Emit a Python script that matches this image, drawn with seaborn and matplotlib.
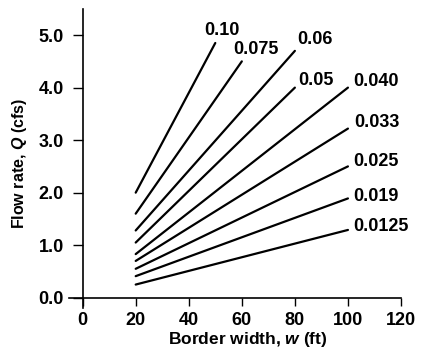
import numpy as np
import pandas as pd
import matplotlib
matplotlib.use('Agg')
import matplotlib.pyplot as plt
import seaborn as sns

# roughness values (one line each)
n_labels = ['0.10', '0.075', '0.06', '0.05', '0.040', '0.033', '0.025', '0.019', '0.0125']
# border width at start / end of each line (ft)
w_start = [20, 20, 20, 20, 20, 20, 20, 20, 20]
w_end = [50, 60, 80, 80, 100, 100, 100, 100, 100]
# flow rate at start / end (cfs)
q_start = [2.0, 1.6, 1.28, 1.05, 0.83, 0.70, 0.55, 0.41, 0.25]
q_end = [4.85, 4.5, 4.7, 4.0, 4.0, 3.22, 2.5, 1.89, 1.29]
# label anchor positions (data coords)
lab_x = [45.8, 56.7, 80.9, 81.3, 102, 102.4, 102, 102, 102]
lab_y = [5.08, 4.72, 4.91, 4.14, 4.12, 3.34, 2.59, 1.92, 1.35]

rows = []
for i, n in enumerate(n_labels):
    rows.append({'n': n, 'w': w_start[i], 'Q': q_start[i]})
    rows.append({'n': n, 'w': w_end[i], 'Q': q_end[i]})
df = pd.DataFrame(rows)

sns.set_style('ticks')
plt.rcParams['font.family'] = ['Liberation Sans', 'DejaVu Sans']
plt.rcParams['font.weight'] = 'bold'
plt.rcParams['mathtext.fontset'] = 'custom'
plt.rcParams['mathtext.bfit'] = 'Liberation Sans:italic:bold'
plt.rcParams['mathtext.it'] = 'Liberation Sans:italic:bold'

fig = plt.figure(figsize=(4.23, 3.54), dpi=100)
ax = fig.add_axes([0.164, 0.1294, 0.784, 0.8456])

sns.lineplot(data=df, x='w', y='Q', hue='n', palette=['black'] * len(n_labels),
             legend=False, sort=False, linewidth=1.6, ax=ax)

for i, n in enumerate(n_labels):
    ax.text(lab_x[i], lab_y[i], n, ha='left', va='center',
            fontsize=13, fontweight='bold', color='black')

ax.set_xlim(-5, 120)
ax.set_ylim(-0.2, 5.5)
ax.set_xticks([0, 20, 40, 60, 80, 100, 120])
ax.set_yticks([0, 1, 2, 3, 4, 5])
ax.set_yticklabels(['0.0', '1.0', '2.0', '3.0', '4.0', '5.0'])

for s in ['top', 'right']:
    ax.spines[s].set_visible(False)
ax.spines['left'].set_position(('data', 0))
ax.spines['bottom'].set_position(('data', 0))
for s in ['left', 'bottom']:
    ax.spines[s].set_linewidth(1.2)
    ax.spines[s].set_color('black')

ax.tick_params(axis='y', direction='out', length=7.5, width=1, pad=6, labelsize=13, colors='black')
ax.tick_params(axis='x', direction='out', length=5.5, width=1, pad=5, labelsize=13, colors='black')
for lbl in ax.get_xticklabels() + ax.get_yticklabels():
    lbl.set_fontweight('bold')

ax.set_xlabel(r'Border width, $\mathit{w}$ (ft)', fontsize=12.5, fontweight='bold', color='black')
ax.set_ylabel(r'Flow rate, $\mathit{Q}$ (cfs)', fontsize=11.5, fontweight='bold', color='black')
ax.xaxis.set_label_coords(0.538, -0.073)
ax.yaxis.set_label_coords(-0.122, 0.482)

plt.savefig('out.png', dpi=100)
